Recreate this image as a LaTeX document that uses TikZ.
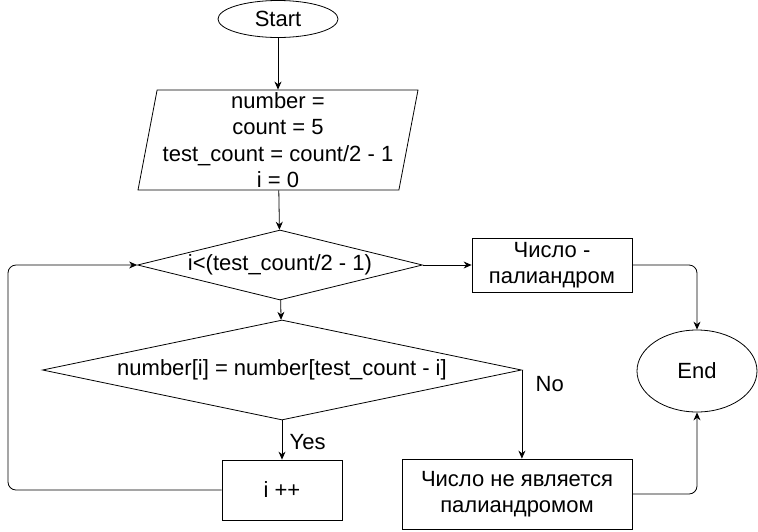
\documentclass[tikz,border=0pt]{standalone}
\usepackage{fontspec}
\setmainfont{Liberation Sans}
\usetikzlibrary{arrows.meta,shapes.geometric,positioning}

\begin{document}
\begin{tikzpicture}[x=1pt,y=1pt,->,>={Stealth[length=8pt,width=7pt]},line width=0.8pt,
                    font=\fontsize{22}{26.5}\selectfont,
                    terminal/.style={ellipse,draw,inner sep=0pt},
                    block/.style={rectangle,draw,inner sep=0pt,align=center},
                    io/.style={trapezium,trapezium left angle=78.7,trapezium right angle=101.3,
                               trapezium stretches body,draw,inner sep=0pt,align=center},
                    decision/.style={diamond,draw,inner sep=0pt}]

        \useasboundingbox (0,0) rectangle (758,-531);

        \node[terminal,minimum width=120,minimum height=37] (start) at (278,-19) {Start};
        \node[io,minimum width=280,minimum height=100] (init) at (278,-140)
             {number =\\count = 5\\test\_count = count/2 - 1\\i = 0};
        \node[decision,aspect=4.07,minimum width=285,minimum height=70] (cond) at (280,-265)
             {i<(test\_count/2 - 1)};
        \node[decision,aspect=4.79,minimum width=479,minimum height=100] (check) at (282,-370)
             {number[i] = number[test\_count - i]};
        \node[block,minimum width=120,minimum height=60] (inc) at (282,-490) {i ++};
        \node[block,minimum width=160,minimum height=54] (pal) at (552,-265) {Число -\\палиандром};
        \node[block,minimum width=230,minimum height=70] (nopal) at (517,-494)
             {Число не является\\палиандромом};
        \node[terminal,minimum width=120,minimum height=82] (end) at (697,-371) {End};

        \path (start) edge (init)
              (init) edge (cond)
              (cond) edge (check)
              (cond.east) edge (pal.west)
              (check.south) edge node[right=4pt,pos=0.55] {Yes} (inc.north);

        \draw (check.east) -- node[right=10pt,pos=0.16] {No} (check.east |- nopal.north);
        \draw[rounded corners=8pt] (inc.west) -- (8,-490) -- (8,-265) -- (cond.west);
        \draw[rounded corners=8pt] (pal.east) -| (end.north);
        \draw[rounded corners=8pt] (nopal.east) -| (end.south);
      \end{tikzpicture}
\end{document}
